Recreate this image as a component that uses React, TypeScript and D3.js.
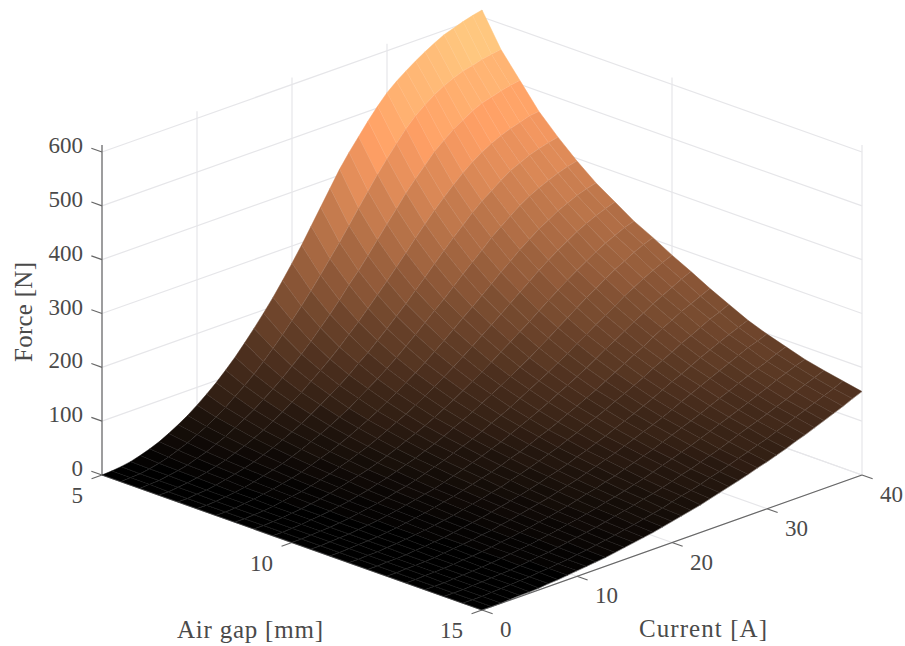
import React, { useEffect, useRef } from "react";
import * as d3 from "d3";

// Axis tick labels
const gapTicks = [5, 10, 15];
const currentTicks = [0, 10, 20, 30, 40];
const forceTicks = [0, 100, 200, 300, 400, 500, 600];

// Mesh of the surface
const gaps = [5, 5.5, 6, 6.5, 7, 7.5, 8, 8.5, 9, 9.5, 10, 10.5, 11, 11.5, 12, 12.5, 13, 13.5, 14, 14.5, 15];
const currents = [0, 1, 2, 3, 4, 5, 6, 7, 8, 9, 10, 11, 12, 13, 14, 15, 16, 17, 18, 19, 20, 21, 22, 23, 24, 25, 26, 27, 28, 29, 30, 31, 32, 33, 34, 35, 36, 37, 38, 39, 40];

// Force [N] against current, one list per air gap
const f5_0 = [0, 1, 3, 6, 11, 17, 24, 33, 43, 54, 67, 81, 96, 113, 131, 151, 172, 194, 217, 242, 268, 295, 324, 353, 382, 411, 436, 459, 482, 503, 522, 537, 550, 562, 573, 583, 592, 598, 604, 609, 613];
const f5_5 = [0, 1, 2, 5, 9, 14, 21, 28, 37, 46, 57, 69, 83, 97, 112, 129, 147, 166, 186, 207, 229, 252, 276, 300, 325, 351, 376, 401, 424, 446, 467, 485, 499, 512, 522, 530, 537, 541, 546, 549, 552];
const f6_0 = [0, 1, 2, 5, 8, 12, 18, 24, 32, 40, 50, 60, 71, 84, 97, 111, 127, 143, 160, 179, 198, 218, 240, 260, 282, 305, 328, 350, 373, 393, 412, 431, 446, 460, 471, 482, 490, 495, 500, 504, 507];
const f6_5 = [0, 0, 2, 4, 7, 11, 16, 21, 28, 35, 43, 52, 62, 73, 85, 97, 111, 125, 140, 156, 173, 190, 209, 228, 247, 267, 287, 308, 328, 347, 365, 382, 398, 412, 424, 434, 442, 449, 454, 460, 462];
const f7_0 = [0, 0, 2, 3, 6, 10, 14, 19, 24, 31, 38, 46, 55, 64, 75, 86, 98, 110, 123, 138, 152, 168, 184, 201, 218, 236, 254, 273, 291, 309, 326, 343, 358, 371, 384, 396, 404, 412, 418, 423, 427];
const f7_5 = [0, 0, 1, 3, 5, 8, 12, 17, 22, 27, 34, 41, 49, 57, 66, 76, 86, 98, 110, 122, 135, 149, 164, 179, 195, 211, 226, 243, 260, 276, 292, 309, 323, 337, 350, 361, 370, 378, 385, 391, 395];
const f8_0 = [0, 0, 1, 3, 5, 8, 11, 15, 19, 24, 30, 37, 43, 51, 59, 68, 77, 87, 98, 109, 121, 133, 146, 160, 174, 189, 204, 218, 233, 248, 264, 278, 293, 306, 319, 329, 340, 348, 356, 362, 367];
const f8_5 = [0, 0, 1, 2, 4, 7, 10, 13, 17, 22, 27, 33, 39, 46, 53, 61, 70, 79, 88, 98, 109, 120, 132, 144, 157, 170, 184, 197, 211, 225, 239, 253, 267, 280, 292, 303, 314, 323, 331, 338, 344];
const f9_0 = [0, 0, 1, 2, 4, 6, 9, 12, 16, 20, 25, 30, 35, 41, 48, 55, 63, 71, 79, 88, 98, 108, 119, 130, 141, 153, 166, 178, 191, 203, 217, 230, 243, 255, 267, 278, 289, 299, 307, 315, 321];
const f9_5 = [0, 0, 1, 2, 4, 6, 8, 11, 14, 18, 22, 27, 32, 38, 44, 50, 57, 64, 72, 81, 89, 98, 108, 118, 128, 139, 150, 161, 173, 185, 198, 210, 223, 235, 246, 258, 269, 278, 288, 296, 303];
const f10_0 = [0, 0, 1, 2, 3, 5, 7, 10, 13, 16, 20, 25, 29, 34, 40, 46, 52, 59, 66, 73, 81, 90, 98, 107, 117, 127, 137, 147, 158, 169, 181, 192, 204, 215, 226, 238, 248, 258, 267, 275, 283];
const f10_5 = [0, 0, 1, 2, 3, 5, 7, 9, 12, 15, 19, 23, 27, 31, 36, 42, 48, 54, 60, 67, 74, 82, 90, 98, 107, 116, 126, 135, 145, 155, 166, 177, 187, 198, 209, 219, 230, 239, 248, 257, 265];
const f11_0 = [0, 0, 1, 2, 3, 4, 6, 8, 11, 14, 17, 21, 25, 29, 34, 39, 44, 49, 55, 62, 68, 75, 83, 90, 98, 107, 115, 124, 133, 143, 153, 163, 173, 182, 193, 203, 212, 222, 230, 238, 246];
const f11_5 = [0, 0, 1, 1, 3, 4, 6, 8, 10, 13, 16, 19, 23, 27, 31, 36, 40, 46, 51, 57, 63, 70, 76, 84, 91, 99, 107, 115, 124, 132, 141, 150, 160, 169, 178, 188, 196, 205, 214, 221, 229];
const f12_0 = [0, 0, 1, 1, 2, 4, 5, 7, 9, 12, 15, 18, 21, 25, 29, 33, 37, 42, 47, 53, 58, 64, 71, 77, 84, 91, 99, 106, 114, 122, 130, 139, 148, 156, 165, 174, 182, 190, 198, 205, 212];
const f12_5 = [0, 0, 1, 1, 2, 3, 5, 7, 9, 11, 14, 16, 20, 23, 27, 31, 35, 39, 44, 49, 54, 60, 66, 72, 78, 85, 92, 99, 106, 113, 121, 130, 138, 146, 154, 162, 170, 178, 186, 192, 199];
const f13_0 = [0, 0, 1, 1, 2, 3, 5, 6, 8, 10, 13, 15, 18, 21, 25, 28, 32, 36, 41, 46, 50, 56, 61, 67, 73, 79, 85, 92, 99, 106, 113, 120, 128, 136, 143, 151, 159, 166, 173, 181, 188];
const f13_5 = [0, 0, 0, 1, 2, 3, 4, 6, 8, 10, 12, 14, 17, 20, 23, 27, 30, 34, 38, 43, 47, 52, 57, 62, 68, 74, 80, 86, 92, 99, 106, 113, 120, 127, 134, 142, 149, 157, 164, 171, 177];
const f14_0 = [0, 0, 0, 1, 2, 3, 4, 5, 7, 9, 11, 13, 16, 19, 22, 25, 28, 32, 36, 40, 44, 49, 53, 58, 63, 69, 74, 80, 86, 92, 99, 106, 113, 119, 126, 133, 140, 148, 155, 162, 169];
const f14_5 = [0, 0, 0, 1, 2, 3, 4, 5, 7, 8, 10, 12, 15, 17, 20, 23, 26, 30, 33, 37, 41, 45, 50, 55, 59, 64, 70, 75, 81, 87, 93, 99, 105, 112, 119, 126, 133, 140, 147, 154, 162];
const f15_0 = [0, 0, 0, 1, 2, 2, 3, 5, 6, 8, 10, 12, 14, 16, 19, 22, 25, 28, 31, 35, 39, 43, 47, 51, 56, 61, 66, 71, 76, 82, 87, 93, 99, 106, 112, 119, 126, 133, 140, 148, 155];
const forceRows = [f5_0, f5_5, f6_0, f6_5, f7_0, f7_5, f8_0, f8_5, f9_0, f9_5, f10_0, f10_5, f11_0, f11_5, f12_0, f12_5, f13_0, f13_5, f14_0, f14_5, f15_0];

const forceTop = 613;

const App = () => {
  const ref = useRef<SVGSVGElement | null>(null);

  useEffect(() => {
    const svg = d3.select(ref.current);
    svg.selectAll("*").remove();

    // Orthographic view: each data axis has a screen x and a screen y part
    const gapX = d3.scaleLinear().domain([5, 15]).range([0, 380]);
    const gapY = d3.scaleLinear().domain([5, 15]).range([0, 135]);
    const curX = d3.scaleLinear().domain([0, 40]).range([0, 380]);
    const curY = d3.scaleLinear().domain([0, 40]).range([0, -135]);
    const forceY = d3.scaleLinear().domain([0, 600]).range([0, -323]);

    const project = (g: number, c: number, f: number): [number, number] => [
      102 + gapX(g) + curX(c),
      475 + gapY(g) + curY(c) + forceY(f),
    ];
    const line = d3.line();

    // Copper colormap, 64 levels
    const copper = d3.scaleLinear<string>()
      .domain([0, 0.8, 1])
      .range(["rgb(0,0,0)", "rgb(255,159,101)", "rgb(255,199,127)"]);
    const colorOf = (f: number) => copper(Math.min(Math.floor((f / forceTop) * 64), 63) / 63);

    // Grid on the floor and the two walls
    const grid = svg.append("g").attr("fill", "none").attr("stroke", "#e6e6e9").attr("stroke-width", 1.2);
    const addGrid = (pts: [number, number][]) => grid.append("path").attr("d", line(pts));
    gapTicks.forEach(g => {
      addGrid([project(g, 0, 0), project(g, 40, 0)]);
      addGrid([project(g, 40, 0), project(g, 40, forceTop)]);
    });
    currentTicks.forEach(c => {
      addGrid([project(5, c, 0), project(15, c, 0)]);
      addGrid([project(5, c, 0), project(5, c, forceTop)]);
    });
    forceTicks.forEach(f => {
      addGrid([project(15, 40, f), project(5, 40, f)]);
      addGrid([project(5, 40, f), project(5, 0, f)]);
    });

    // Axes and ticks
    const axes = svg.append("g").attr("fill", "none").attr("stroke", "#666").attr("stroke-width", 1.2);
    const addAxis = (pts: [number, number][]) => axes.append("path").attr("d", line(pts));
    addAxis([project(5, 0, 0), project(5, 0, forceTop)]);
    addAxis([project(5, 0, 0), project(15, 0, 0)]);
    addAxis([project(15, 0, 0), project(15, 40, 0)]);
    forceTicks.forEach(f => addAxis([project(5, 0, f), project(4.72, 0, f)]));
    gapTicks.forEach(g => addAxis([project(g, 0, 0), project(g, -1.1, 0)]));
    currentTicks.forEach(c => addAxis([project(15, c, 0), project(15.28, c, 0)]));

    // Surface, painted from the back corner to the front corner
    const surface = svg.append("g").attr("fill", "none");
    for (let i = 0; i < gaps.length - 1; i++) {
      for (let j = currents.length - 2; j >= 0; j--) {
        const a = project(gaps[i], currents[j], forceRows[i][j]);
        const b = project(gaps[i], currents[j + 1], forceRows[i][j + 1]);
        const c = project(gaps[i + 1], currents[j + 1], forceRows[i + 1][j + 1]);
        const d = project(gaps[i + 1], currents[j], forceRows[i + 1][j]);
        const fill = colorOf(forceRows[i][j + 1]);
        surface.append("path")
          .attr("d", line([a, b, c, d]) + "Z")
          .attr("fill", fill)
          .attr("stroke", fill)
          .attr("stroke-width", 0.5);
        // Dense lines run along the air gap, coarser ones along the current
        surface.append("path")
          .attr("d", line([a, d]))
          .attr("stroke", "#fff").attr("stroke-opacity", 0.17).attr("stroke-width", 1);
        surface.append("path")
          .attr("d", line([c, d]))
          .attr("stroke", "#fff").attr("stroke-opacity", 0.3).attr("stroke-width", 1);
      }
    }

    // Tick labels and axis titles
    const text = svg.append("g")
      .attr("font-family", "'Liberation Serif', serif")
      .attr("fill", "#4a4a4a");
    const tickSize = 23;
    forceTicks.forEach(f => {
      const [, y] = project(5, 0, f);
      text.append("text").attr("x", 83).attr("y", y + 1).attr("text-anchor", "end")
        .attr("font-size", tickSize).text(f);
    });
    gapTicks.forEach(g => {
      const [x, y] = project(g, 0, 0);
      text.append("text").attr("x", x - 19).attr("y", y + 28).attr("text-anchor", "end")
        .attr("font-size", tickSize).text(g);
    });
    currentTicks.forEach(c => {
      const [x, y] = project(15, c, 0);
      text.append("text").attr("x", x + 18).attr("y", y + 27)
        .attr("font-size", tickSize).text(c);
    });
    text.append("text").attr("x", 177).attr("y", 638).attr("font-size", 25)
      .attr("textLength", 146).text("Air gap [mm]");
    text.append("text").attr("x", 639).attr("y", 637).attr("font-size", 25)
      .attr("textLength", 128).text("Current [A]");
    text.append("text").attr("transform", "translate(32,362) rotate(-90)").attr("font-size", 25)
      .attr("textLength", 100).text("Force [N]");
  }, []);

  return (
    <svg
      ref={ref}
      width={905}
      height={646}
      style={{ position: "absolute", left: 0, top: 0, background: "#fff" }}
    />
  );
};

export default App;
